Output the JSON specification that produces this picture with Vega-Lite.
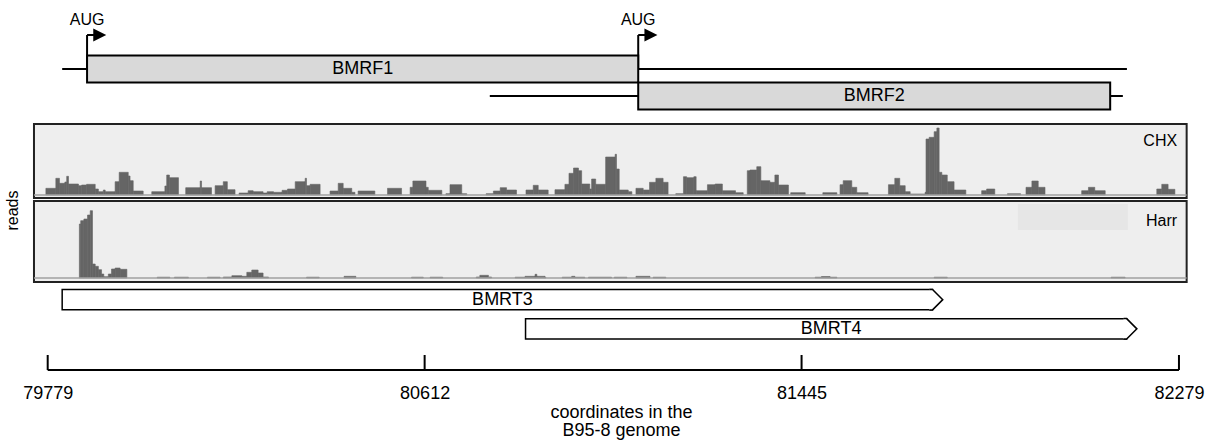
{
  "$schema": "https://vega.github.io/schema/vega-lite/v6.json",
  "width": 1211,
  "height": 445,
  "autosize": {"type": "none"},
  "padding": 0,
  "background": "white",
  "config": {"view": {"stroke": null}, "font": "Liberation Sans"},
  "datasets": {
    "genes": [
      {"lane": "BMRF1", "label": "BMRF1", "lineStart": 79811, "start": 79866, "end": 81084, "lineEnd": 82164},
      {"lane": "BMRF2", "label": "BMRF2", "lineStart": 80756, "start": 81084, "end": 82127, "lineEnd": 82155}
    ],
    "aug": [
      {"pos": 79866, "label": "AUG"},
      {"pos": 81084, "label": "AUG"}
    ],
    "transcripts": [
      {"lane": "BMRT3", "label": "BMRT3", "start": 79811, "end": 81757},
      {"lane": "BMRT4", "label": "BMRT4", "start": 80835, "end": 82186}
    ],
    "ticks": [{"tick": 79779}, {"tick": 80612}, {"tick": 81445}, {"tick": 82279}],
    "reads": [
      {"track": "CHX", "start": 79775, "end": 79797, "reads": 6.7},
      {"track": "CHX", "start": 79797, "end": 79805, "reads": 16.7},
      {"track": "CHX", "start": 79805, "end": 79817, "reads": 11.7},
      {"track": "CHX", "start": 79817, "end": 79821, "reads": 13},
      {"track": "CHX", "start": 79821, "end": 79825, "reads": 18.7},
      {"track": "CHX", "start": 79825, "end": 79847, "reads": 11},
      {"track": "CHX", "start": 79847, "end": 79854, "reads": 9.3},
      {"track": "CHX", "start": 79854, "end": 79865, "reads": 10},
      {"track": "CHX", "start": 79865, "end": 79884, "reads": 10.7},
      {"track": "CHX", "start": 79884, "end": 79891, "reads": 6},
      {"track": "CHX", "start": 79891, "end": 79902, "reads": 3.3},
      {"track": "CHX", "start": 79902, "end": 79906, "reads": 5},
      {"track": "CHX", "start": 79906, "end": 79928, "reads": 3.3},
      {"track": "CHX", "start": 79928, "end": 79937, "reads": 13.3},
      {"track": "CHX", "start": 79937, "end": 79957, "reads": 22.7},
      {"track": "CHX", "start": 79957, "end": 79961, "reads": 19},
      {"track": "CHX", "start": 79961, "end": 79968, "reads": 14.3},
      {"track": "CHX", "start": 79968, "end": 79990, "reads": 4},
      {"track": "CHX", "start": 80009, "end": 80038, "reads": 3.3},
      {"track": "CHX", "start": 80038, "end": 80042, "reads": 9},
      {"track": "CHX", "start": 80042, "end": 80048, "reads": 20},
      {"track": "CHX", "start": 80048, "end": 80068, "reads": 17.3},
      {"track": "CHX", "start": 80084, "end": 80116, "reads": 7.3},
      {"track": "CHX", "start": 80116, "end": 80119, "reads": 14},
      {"track": "CHX", "start": 80119, "end": 80141, "reads": 7.3},
      {"track": "CHX", "start": 80149, "end": 80167, "reads": 9.3},
      {"track": "CHX", "start": 80167, "end": 80176, "reads": 13.3},
      {"track": "CHX", "start": 80176, "end": 80193, "reads": 5.3},
      {"track": "CHX", "start": 80202, "end": 80222, "reads": 2},
      {"track": "CHX", "start": 80222, "end": 80233, "reads": 4.3},
      {"track": "CHX", "start": 80233, "end": 80255, "reads": 3.3},
      {"track": "CHX", "start": 80255, "end": 80264, "reads": 2},
      {"track": "CHX", "start": 80264, "end": 80278, "reads": 3.3},
      {"track": "CHX", "start": 80278, "end": 80297, "reads": 2.7},
      {"track": "CHX", "start": 80297, "end": 80309, "reads": 4.7},
      {"track": "CHX", "start": 80309, "end": 80326, "reads": 6},
      {"track": "CHX", "start": 80326, "end": 80348, "reads": 13.3},
      {"track": "CHX", "start": 80348, "end": 80351, "reads": 16.7},
      {"track": "CHX", "start": 80351, "end": 80359, "reads": 9.3},
      {"track": "CHX", "start": 80359, "end": 80381, "reads": 10.7},
      {"track": "CHX", "start": 80403, "end": 80421, "reads": 4},
      {"track": "CHX", "start": 80421, "end": 80432, "reads": 11.7},
      {"track": "CHX", "start": 80432, "end": 80451, "reads": 6.7},
      {"track": "CHX", "start": 80451, "end": 80458, "reads": 2.7},
      {"track": "CHX", "start": 80465, "end": 80502, "reads": 4},
      {"track": "CHX", "start": 80530, "end": 80561, "reads": 6.7},
      {"track": "CHX", "start": 80580, "end": 80586, "reads": 7.7},
      {"track": "CHX", "start": 80586, "end": 80615, "reads": 14},
      {"track": "CHX", "start": 80615, "end": 80620, "reads": 7.7},
      {"track": "CHX", "start": 80620, "end": 80650, "reads": 4.7},
      {"track": "CHX", "start": 80659, "end": 80668, "reads": 1.3},
      {"track": "CHX", "start": 80668, "end": 80694, "reads": 10.3},
      {"track": "CHX", "start": 80694, "end": 80705, "reads": 1.3},
      {"track": "CHX", "start": 80748, "end": 80764, "reads": 1.3},
      {"track": "CHX", "start": 80764, "end": 80779, "reads": 4},
      {"track": "CHX", "start": 80779, "end": 80793, "reads": 7.3},
      {"track": "CHX", "start": 80793, "end": 80815, "reads": 5},
      {"track": "CHX", "start": 80836, "end": 80852, "reads": 5},
      {"track": "CHX", "start": 80852, "end": 80863, "reads": 9.7},
      {"track": "CHX", "start": 80863, "end": 80885, "reads": 5},
      {"track": "CHX", "start": 80900, "end": 80922, "reads": 5.3},
      {"track": "CHX", "start": 80922, "end": 80931, "reads": 10.7},
      {"track": "CHX", "start": 80931, "end": 80941, "reads": 21.7},
      {"track": "CHX", "start": 80941, "end": 80952, "reads": 27},
      {"track": "CHX", "start": 80952, "end": 80959, "reads": 24.3},
      {"track": "CHX", "start": 80959, "end": 80977, "reads": 11},
      {"track": "CHX", "start": 80977, "end": 80981, "reads": 6},
      {"track": "CHX", "start": 80981, "end": 80990, "reads": 16},
      {"track": "CHX", "start": 80990, "end": 81012, "reads": 10.7},
      {"track": "CHX", "start": 81012, "end": 81033, "reads": 38},
      {"track": "CHX", "start": 81033, "end": 81036, "reads": 40.7},
      {"track": "CHX", "start": 81036, "end": 81042, "reads": 26},
      {"track": "CHX", "start": 81042, "end": 81062, "reads": 5},
      {"track": "CHX", "start": 81062, "end": 81070, "reads": 3.3},
      {"track": "CHX", "start": 81079, "end": 81095, "reads": 6.7},
      {"track": "CHX", "start": 81095, "end": 81109, "reads": 5},
      {"track": "CHX", "start": 81109, "end": 81123, "reads": 12.7},
      {"track": "CHX", "start": 81123, "end": 81139, "reads": 16.7},
      {"track": "CHX", "start": 81139, "end": 81150, "reads": 12.7},
      {"track": "CHX", "start": 81167, "end": 81184, "reads": 1.3},
      {"track": "CHX", "start": 81184, "end": 81191, "reads": 18.3},
      {"track": "CHX", "start": 81191, "end": 81207, "reads": 17.3},
      {"track": "CHX", "start": 81207, "end": 81212, "reads": 18.3},
      {"track": "CHX", "start": 81212, "end": 81237, "reads": 4.3},
      {"track": "CHX", "start": 81237, "end": 81254, "reads": 10.3},
      {"track": "CHX", "start": 81254, "end": 81270, "reads": 11},
      {"track": "CHX", "start": 81270, "end": 81299, "reads": 4.3},
      {"track": "CHX", "start": 81299, "end": 81316, "reads": 2.3},
      {"track": "CHX", "start": 81325, "end": 81331, "reads": 24.3},
      {"track": "CHX", "start": 81331, "end": 81346, "reads": 25},
      {"track": "CHX", "start": 81346, "end": 81355, "reads": 28.3},
      {"track": "CHX", "start": 81355, "end": 81375, "reads": 14.3},
      {"track": "CHX", "start": 81375, "end": 81386, "reads": 12.7},
      {"track": "CHX", "start": 81386, "end": 81394, "reads": 20},
      {"track": "CHX", "start": 81394, "end": 81416, "reads": 10},
      {"track": "CHX", "start": 81421, "end": 81453, "reads": 2.3},
      {"track": "CHX", "start": 81492, "end": 81523, "reads": 2.3},
      {"track": "CHX", "start": 81530, "end": 81537, "reads": 10.3},
      {"track": "CHX", "start": 81537, "end": 81556, "reads": 14.3},
      {"track": "CHX", "start": 81556, "end": 81567, "reads": 7.7},
      {"track": "CHX", "start": 81567, "end": 81592, "reads": 2.3},
      {"track": "CHX", "start": 81637, "end": 81651, "reads": 10.3},
      {"track": "CHX", "start": 81651, "end": 81662, "reads": 16.7},
      {"track": "CHX", "start": 81662, "end": 81674, "reads": 9.3},
      {"track": "CHX", "start": 81674, "end": 81685, "reads": 3.3},
      {"track": "CHX", "start": 81685, "end": 81718, "reads": 1},
      {"track": "CHX", "start": 81718, "end": 81720, "reads": 2.7},
      {"track": "CHX", "start": 81720, "end": 81727, "reads": 56},
      {"track": "CHX", "start": 81727, "end": 81738, "reads": 57.7},
      {"track": "CHX", "start": 81738, "end": 81744, "reads": 63.3},
      {"track": "CHX", "start": 81744, "end": 81749, "reads": 67},
      {"track": "CHX", "start": 81749, "end": 81755, "reads": 22.7},
      {"track": "CHX", "start": 81755, "end": 81767, "reads": 20},
      {"track": "CHX", "start": 81767, "end": 81782, "reads": 13.3},
      {"track": "CHX", "start": 81782, "end": 81808, "reads": 5},
      {"track": "CHX", "start": 81843, "end": 81854, "reads": 4.3},
      {"track": "CHX", "start": 81854, "end": 81872, "reads": 6},
      {"track": "CHX", "start": 81900, "end": 81929, "reads": 1.3},
      {"track": "CHX", "start": 81941, "end": 81954, "reads": 7.7},
      {"track": "CHX", "start": 81954, "end": 81968, "reads": 14},
      {"track": "CHX", "start": 81968, "end": 81983, "reads": 7.7},
      {"track": "CHX", "start": 82064, "end": 82079, "reads": 4.3},
      {"track": "CHX", "start": 82079, "end": 82093, "reads": 7.7},
      {"track": "CHX", "start": 82093, "end": 82116, "reads": 4.3},
      {"track": "CHX", "start": 82230, "end": 82241, "reads": 6},
      {"track": "CHX", "start": 82241, "end": 82255, "reads": 10.7},
      {"track": "CHX", "start": 82255, "end": 82270, "reads": 5.7},
      {"track": "Harr", "start": 79849, "end": 79852, "reads": 54},
      {"track": "Harr", "start": 79852, "end": 79859, "reads": 57.3},
      {"track": "Harr", "start": 79859, "end": 79867, "reads": 59},
      {"track": "Harr", "start": 79867, "end": 79873, "reads": 63},
      {"track": "Harr", "start": 79873, "end": 79878, "reads": 67.3},
      {"track": "Harr", "start": 79878, "end": 79884, "reads": 14},
      {"track": "Harr", "start": 79884, "end": 79891, "reads": 11.7},
      {"track": "Harr", "start": 79891, "end": 79898, "reads": 8.3},
      {"track": "Harr", "start": 79898, "end": 79903, "reads": 4},
      {"track": "Harr", "start": 79903, "end": 79913, "reads": 1.3},
      {"track": "Harr", "start": 79913, "end": 79920, "reads": 4},
      {"track": "Harr", "start": 79920, "end": 79928, "reads": 9},
      {"track": "Harr", "start": 79928, "end": 79939, "reads": 10},
      {"track": "Harr", "start": 79939, "end": 79954, "reads": 8.7},
      {"track": "Harr", "start": 80021, "end": 80049, "reads": 0.8},
      {"track": "Harr", "start": 80059, "end": 80090, "reads": 0.8},
      {"track": "Harr", "start": 80132, "end": 80160, "reads": 0.8},
      {"track": "Harr", "start": 80167, "end": 80186, "reads": 1},
      {"track": "Harr", "start": 80186, "end": 80208, "reads": 2.3},
      {"track": "Harr", "start": 80208, "end": 80219, "reads": 1.7},
      {"track": "Harr", "start": 80219, "end": 80230, "reads": 5.7},
      {"track": "Harr", "start": 80230, "end": 80244, "reads": 8},
      {"track": "Harr", "start": 80244, "end": 80255, "reads": 5},
      {"track": "Harr", "start": 80255, "end": 80267, "reads": 1},
      {"track": "Harr", "start": 80351, "end": 80379, "reads": 0.8},
      {"track": "Harr", "start": 80434, "end": 80460, "reads": 1.7},
      {"track": "Harr", "start": 80583, "end": 80609, "reads": 0.8},
      {"track": "Harr", "start": 80624, "end": 80652, "reads": 0.8},
      {"track": "Harr", "start": 80726, "end": 80734, "reads": 1},
      {"track": "Harr", "start": 80734, "end": 80753, "reads": 2.7},
      {"track": "Harr", "start": 80753, "end": 80760, "reads": 1},
      {"track": "Harr", "start": 80812, "end": 80834, "reads": 0.8},
      {"track": "Harr", "start": 80834, "end": 80856, "reads": 1.7},
      {"track": "Harr", "start": 80856, "end": 80860, "reads": 3.7},
      {"track": "Harr", "start": 80860, "end": 80878, "reads": 1.7},
      {"track": "Harr", "start": 80878, "end": 80880, "reads": 0.8},
      {"track": "Harr", "start": 80916, "end": 80937, "reads": 0.8},
      {"track": "Harr", "start": 80937, "end": 80944, "reads": 1.7},
      {"track": "Harr", "start": 80944, "end": 80966, "reads": 0.8},
      {"track": "Harr", "start": 80974, "end": 81025, "reads": 0.8},
      {"track": "Harr", "start": 81031, "end": 81059, "reads": 0.8},
      {"track": "Harr", "start": 81079, "end": 81110, "reads": 1.7},
      {"track": "Harr", "start": 81117, "end": 81145, "reads": 0.8},
      {"track": "Harr", "start": 81475, "end": 81489, "reads": 0.8},
      {"track": "Harr", "start": 81489, "end": 81508, "reads": 1.5},
      {"track": "Harr", "start": 81508, "end": 81523, "reads": 0.8},
      {"track": "Harr", "start": 81738, "end": 81767, "reads": 0.8},
      {"track": "Harr", "start": 82129, "end": 82160, "reads": 0.8}
    ]
  },
  "resolve": {"scale": {"y": "independent"}, "axis": {"x": "independent", "y": "independent"}},
  "layer": [
    {
      "resolve": {"axis": {"x": "independent", "y": "independent"}},
      "layer": [
        {
          "data": {"name": "genes"},
          "mark": {"type": "rule", "strokeWidth": 2, "color": "black"},
          "encoding": {
            "x": {"field": "lineStart", "type": "quantitative", "scale": {"domain": [79673.6, 82349.8], "nice": false, "zero": false}, "axis": null},
            "x2": {"field": "lineEnd"},
            "y": {"field": "lane", "type": "nominal", "scale": {"domain": ["label", "arrow", "BMRF1", "BMRF2"], "range": [1.5, 109.5], "paddingInner": 0, "paddingOuter": 0}, "axis": null}
          }
        },
        {
          "data": {"name": "aug"},
          "mark": {"type": "rule", "strokeWidth": 2, "color": "black"},
          "encoding": {
            "x": {"field": "pos", "type": "quantitative", "scale": {"domain": [79673.6, 82349.8], "nice": false, "zero": false}, "axis": null},
            "y": {"datum": "arrow", "type": "nominal", "bandPosition": 0.24, "scale": {"domain": ["label", "arrow", "BMRF1", "BMRF2"], "range": [1.5, 109.5], "paddingInner": 0, "paddingOuter": 0}, "axis": null},
            "y2": {"datum": "BMRF1"}
          }
        },
        {
          "data": {"name": "aug"},
          "mark": {"type": "rule", "strokeWidth": 2, "color": "black", "x2Offset": 7},
          "encoding": {
            "x": {"field": "pos", "type": "quantitative", "scale": {"domain": [79673.6, 82349.8], "nice": false, "zero": false}, "axis": null},
            "x2": {"field": "pos"},
            "y": {"datum": "arrow", "type": "nominal", "bandPosition": 0.24, "scale": {"domain": ["label", "arrow", "BMRF1", "BMRF2"], "range": [1.5, 109.5], "paddingInner": 0, "paddingOuter": 0}, "axis": null}
          }
        },
        {
          "data": {"name": "aug"},
          "mark": {"type": "point", "shape": "M -1 -1 L 1 0 L -1 1 Z", "filled": true, "color": "black", "opacity": 1, "size": 169, "xOffset": 12.7},
          "encoding": {
            "x": {"field": "pos", "type": "quantitative", "scale": {"domain": [79673.6, 82349.8], "nice": false, "zero": false}, "axis": null},
            "y": {"datum": "arrow", "type": "nominal", "bandPosition": 0.24, "scale": {"domain": ["label", "arrow", "BMRF1", "BMRF2"], "range": [1.5, 109.5], "paddingInner": 0, "paddingOuter": 0}, "axis": null}
          }
        },
        {
          "data": {"name": "aug"},
          "mark": {"type": "text", "fontSize": 16, "baseline": "middle", "align": "center", "color": "black"},
          "encoding": {
            "x": {"field": "pos", "type": "quantitative", "scale": {"domain": [79673.6, 82349.8], "nice": false, "zero": false}, "axis": null},
            "y": {"datum": "label", "type": "nominal", "bandPosition": 0.7, "scale": {"domain": ["label", "arrow", "BMRF1", "BMRF2"], "range": [1.5, 109.5], "paddingInner": 0, "paddingOuter": 0}, "axis": null},
            "text": {"field": "label"}
          }
        },
        {
          "data": {"name": "genes"},
          "mark": {"type": "bar", "fill": "#d9d9d9", "stroke": "black", "strokeWidth": 2},
          "encoding": {
            "x": {"field": "start", "type": "quantitative", "scale": {"domain": [79673.6, 82349.8], "nice": false, "zero": false}, "axis": null},
            "x2": {"field": "end"},
            "y": {"field": "lane", "type": "nominal", "scale": {"domain": ["label", "arrow", "BMRF1", "BMRF2"], "range": [1.5, 109.5], "paddingInner": 0, "paddingOuter": 0}, "axis": null}
          }
        },
        {
          "data": {"name": "genes"},
          "transform": [{"fold": ["start", "end"], "as": ["k", "v"]}],
          "mark": {"type": "text", "fontSize": 18, "baseline": "middle", "align": "center", "color": "black"},
          "encoding": {
            "x": {"aggregate": "mean", "field": "v", "type": "quantitative", "scale": {"domain": [79673.6, 82349.8], "nice": false, "zero": false}, "axis": null},
            "y": {"field": "lane", "type": "nominal", "scale": {"domain": ["label", "arrow", "BMRF1", "BMRF2"], "range": [1.5, 109.5], "paddingInner": 0, "paddingOuter": 0}, "axis": null},
            "text": {"field": "label"}
          }
        }
      ]
    },
    {
      "resolve": {"axis": {"x": "independent", "y": "independent"}},
      "layer": [
        {
          "data": {"values": [{"track": "CHX"}]},
          "mark": {"type": "rect", "fill": "#eeeeee", "stroke": "#222222", "strokeWidth": 2},
          "encoding": {
            "x": {"datum": 79748.7, "type": "quantitative", "scale": {"domain": [79673.6, 82349.8], "nice": false, "zero": false}, "axis": null},
            "x2": {"datum": 82296},
            "y": {"datum": -3, "type": "quantitative", "scale": {"domain": [-3, 71], "range": [198, 124], "nice": false, "zero": false}, "axis": null},
            "y2": {"datum": 71}
          }
        },
        {
          "data": {"name": "reads"},
          "transform": [{"filter": "datum.track === 'CHX'"}],
          "mark": {"type": "rect", "color": "#656565", "stroke": "#656565", "strokeWidth": 0.6},
          "encoding": {
            "x": {"field": "start", "type": "quantitative", "scale": {"domain": [79673.6, 82349.8], "nice": false, "zero": false}, "axis": null},
            "x2": {"field": "end"},
            "y": {"field": "reads", "type": "quantitative", "scale": {"domain": [-3, 71], "range": [198, 124], "nice": false, "zero": false},
                  "axis": {"orient": "left", "title": "reads", "labels": false, "ticks": false, "domain": false, "grid": false, "titleX": 20, "titleY": 210, "titleFontSize": 16, "titleFontWeight": "normal", "titleColor": "black", "titleFont": "Liberation Sans"}},
            "y2": {"datum": 0}
          }
        },
        {
          "data": {"values": [{"track": "CHX"}]},
          "mark": {"type": "rule", "color": "#a0a0a0", "strokeWidth": 1.5},
          "encoding": {
            "x": {"datum": 79748.7, "type": "quantitative", "scale": {"domain": [79673.6, 82349.8], "nice": false, "zero": false}, "axis": null},
            "x2": {"datum": 82296},
            "y": {"datum": 0, "type": "quantitative", "scale": {"domain": [-3, 71], "range": [198, 124], "nice": false, "zero": false}, "axis": null}
          }
        },
        {
          "data": {"values": [{"track": "CHX"}]},
          "mark": {"type": "text", "fontSize": 16, "align": "right", "baseline": "middle", "color": "black"},
          "encoding": {
            "x": {"datum": 82275, "type": "quantitative", "scale": {"domain": [79673.6, 82349.8], "nice": false, "zero": false}, "axis": null},
            "y": {"datum": 54, "type": "quantitative", "scale": {"domain": [-3, 71], "range": [198, 124], "nice": false, "zero": false}, "axis": null},
            "text": {"field": "track"}
          }
        }
      ]
    },
    {
      "resolve": {"axis": {"x": "independent", "y": "independent"}},
      "layer": [
        {
          "data": {"values": [{"track": "Harr"}]},
          "mark": {"type": "rect", "fill": "#eeeeee", "stroke": "#222222", "strokeWidth": 2},
          "encoding": {
            "x": {"datum": 79748.7, "type": "quantitative", "scale": {"domain": [79673.6, 82349.8], "nice": false, "zero": false}, "axis": null},
            "x2": {"datum": 82296},
            "y": {"datum": -4, "type": "quantitative", "scale": {"domain": [-4, 77], "range": [282, 201], "nice": false, "zero": false}, "axis": null},
            "y2": {"datum": 77}
          }
        },
        {
          "data": {"values": [{"track": "Harr"}]},
          "mark": {"type": "rect", "fill": "#e6e6e6"},
          "encoding": {
            "x": {"datum": 81923, "type": "quantitative", "scale": {"domain": [79673.6, 82349.8], "nice": false, "zero": false}, "axis": null},
            "x2": {"datum": 82166},
            "y": {"datum": 48, "type": "quantitative", "scale": {"domain": [-4, 77], "range": [282, 201], "nice": false, "zero": false}, "axis": null},
            "y2": {"datum": 74}
          }
        },
        {
          "data": {"name": "reads"},
          "transform": [{"filter": "datum.track === 'Harr'"}],
          "mark": {"type": "rect", "color": "#656565", "stroke": "#656565", "strokeWidth": 0.6},
          "encoding": {
            "x": {"field": "start", "type": "quantitative", "scale": {"domain": [79673.6, 82349.8], "nice": false, "zero": false}, "axis": null},
            "x2": {"field": "end"},
            "y": {"field": "reads", "type": "quantitative", "scale": {"domain": [-4, 77], "range": [282, 201], "nice": false, "zero": false}, "axis": null},
            "y2": {"datum": 0}
          }
        },
        {
          "data": {"values": [{"track": "Harr"}]},
          "mark": {"type": "rule", "color": "#a0a0a0", "strokeWidth": 1.5},
          "encoding": {
            "x": {"datum": 79748.7, "type": "quantitative", "scale": {"domain": [79673.6, 82349.8], "nice": false, "zero": false}, "axis": null},
            "x2": {"datum": 82296},
            "y": {"datum": 0, "type": "quantitative", "scale": {"domain": [-4, 77], "range": [282, 201], "nice": false, "zero": false}, "axis": null}
          }
        },
        {
          "data": {"values": [{"track": "Harr"}]},
          "mark": {"type": "text", "fontSize": 16, "align": "right", "baseline": "middle", "color": "black"},
          "encoding": {
            "x": {"datum": 82275, "type": "quantitative", "scale": {"domain": [79673.6, 82349.8], "nice": false, "zero": false}, "axis": null},
            "y": {"datum": 57, "type": "quantitative", "scale": {"domain": [-4, 77], "range": [282, 201], "nice": false, "zero": false}, "axis": null},
            "text": {"field": "track"}
          }
        }
      ]
    },
    {
      "resolve": {"axis": {"x": "independent", "y": "independent"}},
      "layer": [
        {
          "data": {"name": "transcripts"},
          "mark": {"type": "bar", "fill": "white", "stroke": "black", "strokeWidth": 1.5, "x2Offset": -10.25},
          "encoding": {
            "x": {"field": "start", "type": "quantitative", "scale": {"domain": [79673.6, 82349.8], "nice": false, "zero": false}, "axis": null},
            "x2": {"field": "end"},
            "y": {"field": "lane", "type": "nominal", "scale": {"domain": ["BMRT3", "BMRT4"], "range": [289.5, 339], "paddingInner": 0.305, "paddingOuter": 0}, "axis": null}
          }
        },
        {
          "data": {"name": "transcripts"},
          "mark": {"type": "point", "shape": "M -1.3 -1 L -1 -1 L 0 0 L -1 1 L -1.3 1", "filled": true, "fill": "white", "stroke": "black", "strokeWidth": 1.5, "opacity": 1, "size": 420},
          "encoding": {
            "x": {"field": "end", "type": "quantitative", "scale": {"domain": [79673.6, 82349.8], "nice": false, "zero": false}, "axis": null},
            "y": {"field": "lane", "type": "nominal", "scale": {"domain": ["BMRT3", "BMRT4"], "range": [289.5, 339], "paddingInner": 0.305, "paddingOuter": 0}, "axis": null}
          }
        },
        {
          "data": {"name": "transcripts"},
          "transform": [{"fold": ["start", "end"], "as": ["k", "v"]}],
          "mark": {"type": "text", "fontSize": 18, "baseline": "middle", "align": "center", "color": "black"},
          "encoding": {
            "x": {"aggregate": "mean", "field": "v", "type": "quantitative", "scale": {"domain": [79673.6, 82349.8], "nice": false, "zero": false}, "axis": null},
            "y": {"field": "lane", "type": "nominal", "scale": {"domain": ["BMRT3", "BMRT4"], "range": [289.5, 339], "paddingInner": 0.305, "paddingOuter": 0}, "axis": null},
            "text": {"field": "label"}
          }
        }
      ]
    },
    {
      "resolve": {"axis": {"x": "independent", "y": "independent"}},
      "layer": [
        {
          "data": {"values": [{"from": 79779, "to": 82279}]},
          "mark": {"type": "rule", "strokeWidth": 2, "color": "black"},
          "encoding": {
            "x": {"field": "from", "type": "quantitative", "scale": {"domain": [79673.6, 82349.8], "nice": false, "zero": false}, "axis": null},
            "x2": {"field": "to"},
            "y": {"datum": 0, "type": "quantitative", "scale": {"domain": [0, 1], "range": [370, 355], "nice": false, "zero": false}, "axis": null}
          }
        },
        {
          "data": {"name": "ticks"},
          "mark": {"type": "rule", "strokeWidth": 2, "color": "black"},
          "encoding": {
            "x": {"field": "tick", "type": "quantitative", "scale": {"domain": [79673.6, 82349.8], "nice": false, "zero": false},
                  "axis": {"orient": "bottom", "offset": -75, "values": [79779, 80612, 81445, 82279], "format": "d", "ticks": false, "domain": false, "grid": false, "labelFlush": false, "labelOverlap": false, "labelFontSize": 18, "labelColor": "black", "labelFont": "Liberation Sans", "labelPadding": 14, "title": ["coordinates in the", "B95-8 genome"], "titleFontSize": 18, "titleFontWeight": "normal", "titleColor": "black", "titleFont": "Liberation Sans", "titleX": 621, "titlePadding": 1, "titleLineHeight": 18}},
            "y": {"datum": 0, "type": "quantitative", "scale": {"domain": [0, 1], "range": [370, 355], "nice": false, "zero": false}, "axis": null},
            "y2": {"datum": 1}
          }
        }
      ]
    }
  ]
}
